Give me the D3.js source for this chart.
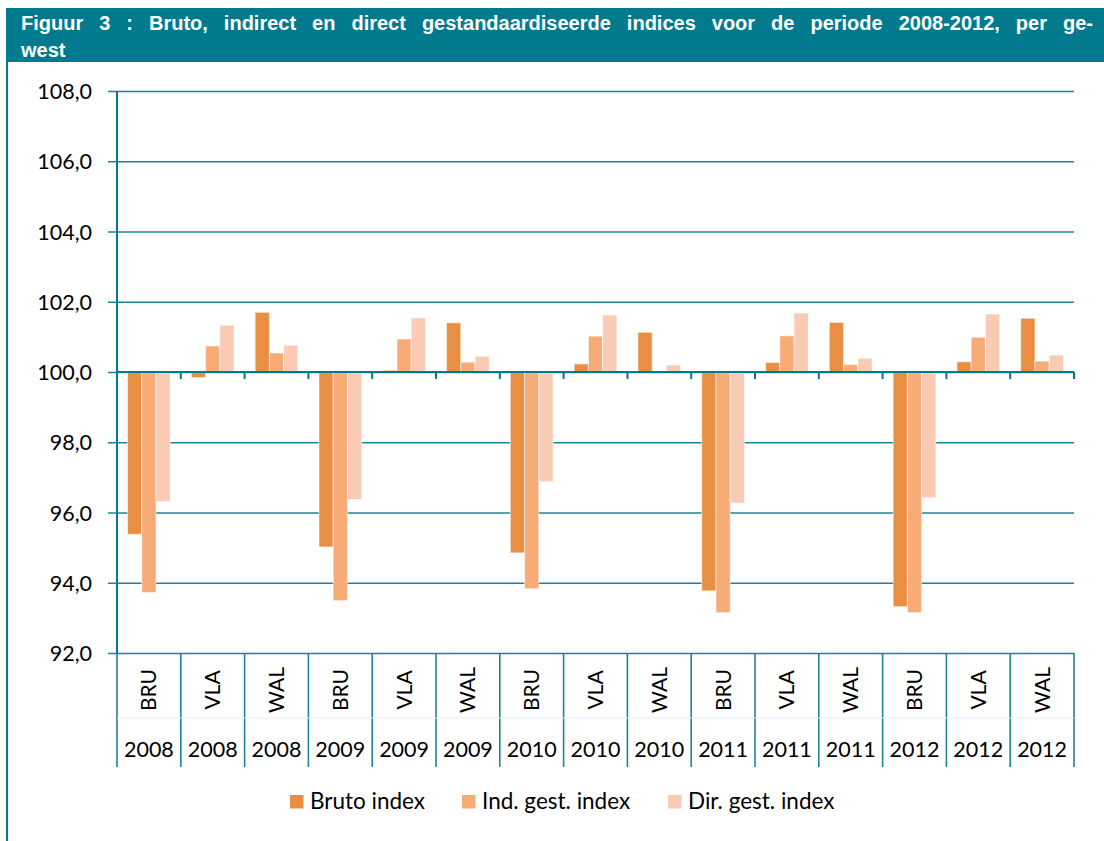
<!DOCTYPE html>
<html>
<head>
<meta charset="utf-8">
<script src="https://cdn.jsdelivr.net/npm/d3@7"></script>
<style>
  body { margin: 0; background: #fff; }
  text { font-family: Lato, "Open Sans", sans-serif; fill: #000; }
</style>
</head>
<body>
<div id="container"></div>
<script>
// data
var regions = ["BRU", "VLA", "WAL", "BRU", "VLA", "WAL", "BRU", "VLA", "WAL", "BRU", "VLA", "WAL", "BRU", "VLA", "WAL"];
var years = ["2008", "2008", "2008", "2009", "2009", "2009", "2010", "2010", "2010", "2011", "2011", "2011", "2012", "2012", "2012"];
var brutoIndex = [95.38, 99.84, 101.70, 95.02, 100.05, 101.40, 94.85, 100.23, 101.13, 93.77, 100.27, 101.41, 93.32, 100.29, 101.53];
var indGestIndex = [93.72, 100.74, 100.54, 93.49, 100.94, 100.28, 93.83, 101.02, 100.0, 93.15, 101.03, 100.21, 93.15, 100.99, 100.31];
var dirGestIndex = [96.31, 101.33, 100.76, 96.37, 101.54, 100.45, 96.88, 101.62, 100.20, 96.27, 101.68, 100.39, 96.42, 101.65, 100.48];
var seriesNames = ["Bruto index", "Ind. gest. index", "Dir. gest. index"];
var seriesColors = ["#e98f43", "#f7ac78", "#f9cbb4"];
var yTicks = [92, 94, 96, 98, 100, 102, 104, 106, 108];

var teal = "#007a8c";
var W = 1104, H = 841;

var svg = d3.select("#container")
  .append("svg")
    .attr("width", W)
    .attr("height", H);

// header band
svg.append("rect")
  .attr("x", 6).attr("y", 8)
  .attr("width", W - 6).attr("height", 54)
  .attr("fill", teal);

// bold title, first line justified (Word style) to the full width
function titleLine(str, yPos, fullWidth) {
  var t = svg.append("text")
    .attr("x", 21).attr("y", yPos)
    .style("font-family", "'Liberation Sans', Arial, sans-serif")
    .style("font-weight", "bold")
    .style("font-size", "20px")
    .style("fill", "#fff")
    .text(str);
  if (fullWidth) {
    var w0 = t.node().getComputedTextLength();
    var n = str.split(" ").length - 1;
    var ws = (fullWidth - w0) / n;
    if (ws >= 0) t.style("word-spacing", ws + "px");
    else t.attr("textLength", fullWidth).attr("lengthAdjust", "spacingAndGlyphs");
  }
}
titleLine("Figuur 3 : Bruto, indirect en direct gestandaardiseerde indices voor de periode 2008-2012, per ge-", 29.5, 1072);
titleLine("west", 56.5, 0);

// left frame line
svg.append("line")
  .attr("x1", 7).attr("x2", 7)
  .attr("y1", 62).attr("y2", H)
  .attr("stroke", teal).attr("stroke-width", 2);

var plotLeft = 117, plotRight = 1074, plotTop = 91, plotBottom = 653;

var y = d3.scaleLinear()
  .domain([92, 108])
  .range([plotBottom, plotTop]);

var cats = d3.range(regions.length);
var x = d3.scaleBand()
  .domain(cats)
  .range([plotLeft, plotRight]);
var bw = x.bandwidth();
var x1 = d3.scaleBand()
  .domain([0, 1, 2])
  .range([bw * 0.165, bw * 0.835]);

// gridlines + y axis
var yAxis = d3.axisLeft(y)
  .tickValues(yTicks)
  .tickSize(-(plotRight - plotLeft))
  .tickPadding(25)
  .tickFormat(function(d) { return d3.format(".1f")(d).replace(".", ","); });

var gy = svg.append("g")
  .attr("transform", "translate(" + plotLeft + ",0)")
  .call(yAxis);
gy.select(".domain").remove();
gy.selectAll(".tick line")
  .attr("x1", -9)
  .attr("stroke", "#1b8594")
  .attr("stroke-width", 1.6);
gy.selectAll(".tick text")
  .style("font-family", "Lato, sans-serif")
  .style("font-size", "21.5px")
  .attr("dy", "0.35em");

// bars
var rows = cats.map(function(i) {
  return [brutoIndex[i], indGestIndex[i], dirGestIndex[i]];
});

svg.append("g")
  .selectAll("g")
  .data(rows)
  .enter()
  .append("g")
    .attr("transform", function(d, i) { return "translate(" + x(i) + ",0)"; })
  .selectAll("rect")
  .data(function(d) { return d.map(function(v, s) { return {v: v, s: s}; }); })
  .enter()
  .append("rect")
    .attr("x", function(d) { return x1(d.s); })
    .attr("width", x1.bandwidth())
    .attr("y", function(d) { return y(Math.max(d.v, 100)); })
    .attr("height", function(d) { return Math.abs(y(d.v) - y(100)); })
    .attr("fill", function(d) { return seriesColors[d.s]; })
    .attr("stroke", "rgba(255,255,255,0.55)")
    .attr("stroke-width", 1);

// category axis crossing at 100
svg.append("line")
  .attr("x1", plotLeft).attr("x2", plotRight)
  .attr("y1", y(100)).attr("y2", y(100))
  .attr("stroke", teal).attr("stroke-width", 2.2);
var bounds = cats.map(function(i) { return x(i); }).concat([plotRight]);
svg.append("g")
  .selectAll("line")
  .data(bounds)
  .enter()
  .append("line")
    .attr("x1", function(d) { return d; })
    .attr("x2", function(d) { return d; })
    .attr("y1", y(100))
    .attr("y2", y(100) + 7)
    .attr("stroke", teal).attr("stroke-width", 2);

// value axis line
svg.append("line")
  .attr("x1", plotLeft).attr("x2", plotLeft)
  .attr("y1", plotTop).attr("y2", plotBottom)
  .attr("stroke", teal).attr("stroke-width", 2);

// label box below the plot
var labTop = plotBottom, labBottom = 767;
svg.append("g")
  .selectAll("line")
  .data(bounds)
  .enter()
  .append("line")
    .attr("x1", function(d) { return d; })
    .attr("x2", function(d) { return d; })
    .attr("y1", labTop)
    .attr("y2", labBottom)
    .attr("stroke", "#1b8594").attr("stroke-width", 1.6);
svg.append("line")
  .attr("x1", plotLeft).attr("x2", plotRight)
  .attr("y1", 718).attr("y2", 718)
  .attr("stroke", "#e3f0f2").attr("stroke-width", 1);

svg.append("g")
  .selectAll("text")
  .data(cats)
  .enter()
  .append("text")
    .attr("transform", function(i) {
      return "translate(" + (x(i) + bw / 2 + 7.5) + ",690) rotate(-90)";
    })
    .attr("text-anchor", "middle")
    .style("font-size", "21px")
    .text(function(i) { return regions[i]; });

svg.append("g")
  .selectAll("text")
  .data(cats)
  .enter()
  .append("text")
    .attr("x", function(i) { return x(i) + bw / 2; })
    .attr("y", 757)
    .attr("text-anchor", "middle")
    .style("font-size", "21.5px")
    .text(function(i) { return years[i]; });

// legend
var legX = [290, 462, 668];
var leg = svg.append("g")
  .selectAll("g")
  .data(seriesNames)
  .enter()
  .append("g")
    .attr("transform", function(d, i) { return "translate(" + legX[i] + ",795)"; });
leg.append("rect")
  .attr("width", 13.5).attr("height", 13.5)
  .attr("fill", function(d, i) { return seriesColors[i]; });
leg.append("text")
  .attr("x", 20).attr("y", 14)
  .style("font-size", "22.5px")
  .text(function(d) { return d; });
</script>
</body>
</html>
